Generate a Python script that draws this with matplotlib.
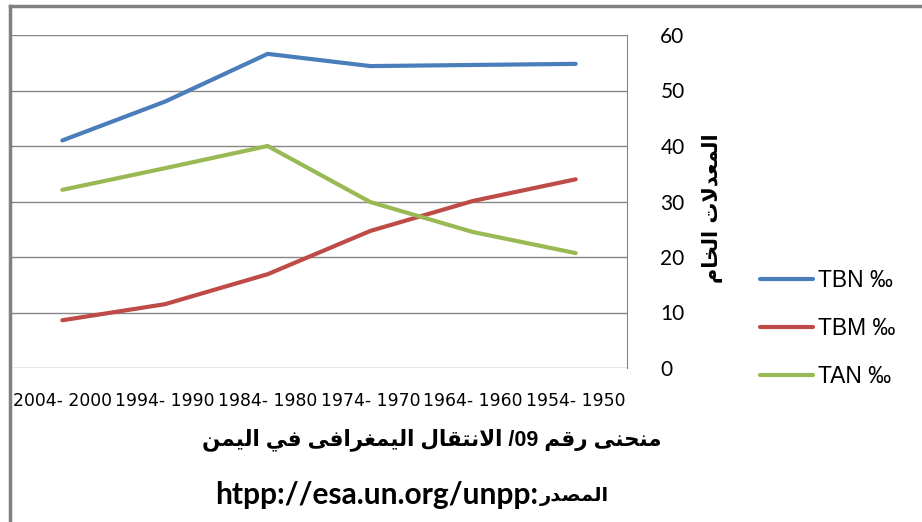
import numpy as np
import matplotlib
matplotlib.use("Agg")
import matplotlib.pyplot as plt
from matplotlib.lines import Line2D

# data (per mille)
periods = ["2004- 2000", "1994- 1990", "1984- 1980", "1974- 1970", "1964- 1960", "1954- 1950"]
tbn = [41.0, 48.0, 56.6, 54.4, 54.6, 54.8]
tbm = [8.6, 11.5, 16.9, 24.7, 30.1, 34.0]
tan = [32.1, 36.0, 40.0, 29.9, 24.5, 20.7]
series_names = ["TBN ‰", "TBM ‰", "TAN ‰"]
colors = ["#4A7EBB", "#BE4B48", "#98B954"]
yticks = [0, 10, 20, 30, 40, 50, 60]

title_words = ["منحنى", "رقم", "09/", "الانتقال", "اليمغرافى", "في", "اليمن"]
source_ar = "المصدر"
source_url = "htpp://esa.un.org/unpp"
ylabel_words = ["المعدلات", "الخام"]

# minimal Arabic shaping (matplotlib has no complex text layout)
FORMS = {  # isolated, final, initial, medial
    "ا": (0xFE8D, 0xFE8E), "د": (0xFEA9, 0xFEAA), "ر": (0xFEAD, 0xFEAE), "ى": (0xFEEF, 0xFEF0),
    "ت": (0xFE95, 0xFE96, 0xFE97, 0xFE98), "ح": (0xFEA1, 0xFEA2, 0xFEA3, 0xFEA4),
    "خ": (0xFEA5, 0xFEA6, 0xFEA7, 0xFEA8), "ص": (0xFEB9, 0xFEBA, 0xFEBB, 0xFEBC),
    "ع": (0xFEC9, 0xFECA, 0xFECB, 0xFECC), "غ": (0xFECD, 0xFECE, 0xFECF, 0xFED0),
    "ف": (0xFED1, 0xFED2, 0xFED3, 0xFED4), "ق": (0xFED5, 0xFED6, 0xFED7, 0xFED8),
    "ل": (0xFEDD, 0xFEDE, 0xFEDF, 0xFEE0), "م": (0xFEE1, 0xFEE2, 0xFEE3, 0xFEE4),
    "ن": (0xFEE5, 0xFEE6, 0xFEE7, 0xFEE8), "ي": (0xFEF1, 0xFEF2, 0xFEF3, 0xFEF4),
}


def shape(word):
    if not any(c in FORMS for c in word):
        return "/09" if word == "09/" else word
    out, prev_joins, i = [], False, 0
    while i < len(word):
        c = word[i]
        if c == "ل" and i + 1 < len(word) and word[i + 1] == "ا":
            out.append(chr(0xFEFC if prev_joins else 0xFEFB))
            prev_joins = False; i += 2; continue
        f = FORMS[c]
        dual = len(f) == 4
        nxt = dual and i + 1 < len(word) and word[i + 1] in FORMS
        out.append(chr(f[(1 if prev_joins else 0) + (2 if nxt else 0)]))
        prev_joins = dual; i += 1
    return "".join(reversed(out))


def visual(words):
    return " ".join(shape(w) for w in reversed(words))


W, H = 922, 522
fig = plt.figure(figsize=(W / 100, H / 100), dpi=100)
ax = fig.add_axes([11 / W, 1 - 368 / H, (627 - 11) / W, (368 - 35) / H])

x = np.arange(len(periods))
for vals, name, col in zip([tbn, tbm, tan], series_names, colors):
    ax.plot(x, vals, color=col, lw=3, label=name, solid_capstyle="round")

ax.set_xlim(-0.5, len(periods) - 0.5)
ax.set_ylim(0, 60)
ax.set_yticks(yticks)
ax.yaxis.tick_right()
ax.tick_params(axis="y", length=0, pad=24, labelsize=15)
for t in ax.get_yticklabels():
    t.set_family("Lato"); t.set_ha("left")
ax.set_xticks(x)
ax.set_xticklabels(periods, fontsize=12.4, family="DejaVu Sans")
ax.tick_params(axis="x", length=0, pad=17)
ax.grid(axis="y", color="#868686", lw=1)
ax.set_axisbelow(True)
for s in ["left", "top", "bottom"]:
    ax.spines[s].set_visible(False)
ax.spines["right"].set_color("#868686")

leg = ax.legend(loc="upper left", bbox_to_anchor=(760 / W, 1 - 269 / H),
                bbox_transform=fig.transFigure, frameon=False,
                handlelength=2.3, handletextpad=0.22, labelspacing=1.1,
                borderpad=0, borderaxespad=0, prop={"family": "Liberation Sans", "size": 16.5})

# outer chart frame (left + top edges visible)
fig.add_artist(Line2D([9.5 / W, 9.5 / W], [0, 1 - 6 / H], color="#808080", lw=2.5))
fig.add_artist(Line2D([9.5 / W, 1], [1 - 6 / H, 1 - 6 / H], color="#808080", lw=2.5))

fig.text(712 / W, 1 - 208 / H, visual(ylabel_words), rotation=90, ha="center", va="center",
         fontsize=15, fontweight="bold", family="DejaVu Sans")
fig.text(432 / W, 1 - 440 / H, visual(title_words), ha="center", va="center",
         fontsize=15.5, fontweight="bold", family=["Liberation Sans", "DejaVu Sans"])
fig.text(215 / W, 1 - 495 / H, source_url + ":", ha="left", va="center",
         fontsize=21.5, fontweight="bold", family="Lato")
fig.text(540 / W, 1 - 497 / H, shape(source_ar), ha="left", va="center",
         fontsize=14, fontweight="bold", family="DejaVu Sans")

fig.savefig("out.png", dpi=100)
